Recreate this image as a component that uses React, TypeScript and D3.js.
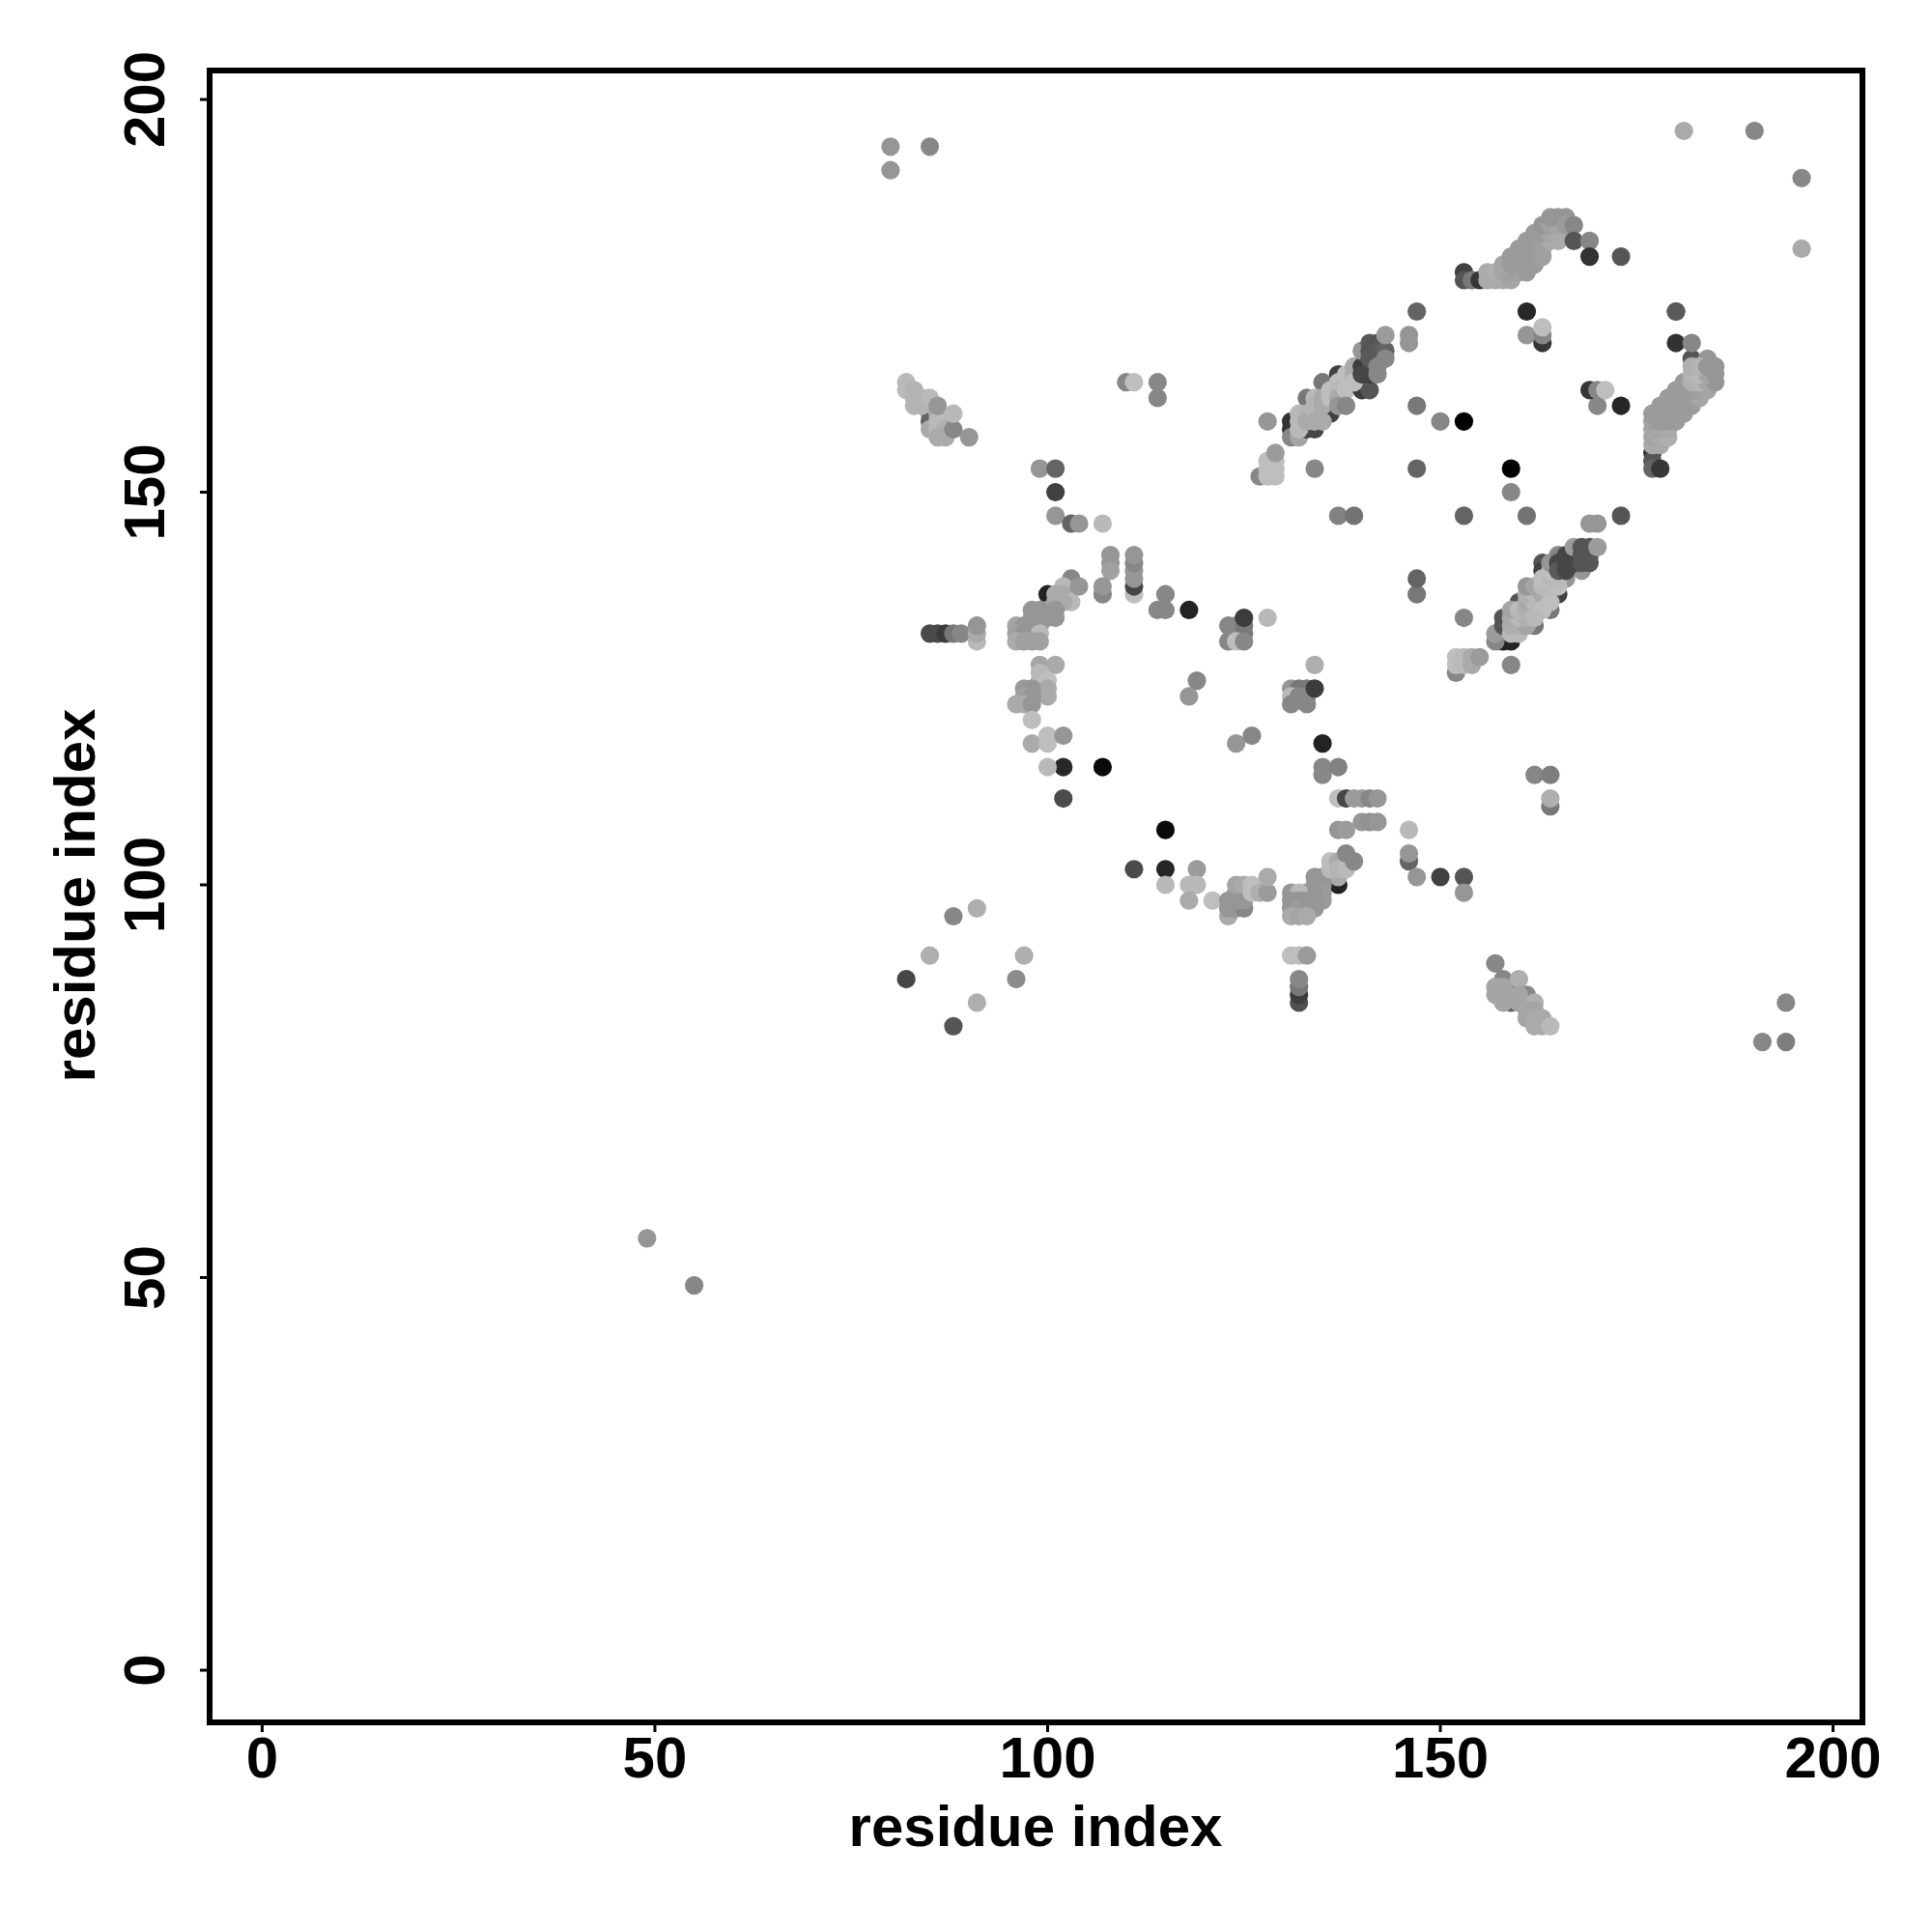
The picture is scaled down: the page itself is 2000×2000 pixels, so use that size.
import React from "react";
import * as d3 from "d3";

type Pt = [number, number, number]; // residue i, residue j, gray level

const tickValues = [0, 50, 100, 150, 200];
const axisTitle = "residue index";

const isolatedFar: Pt[] = [
  [80,194,150],[80,191,150],[85,194,135],[49,55,150],[55,49,135],[181,196,170],[190,196,135],[196,190,135],[196,181,170],
  [88,96,135],[91,97,175],[85,91,175],[97,91,175],[82,88,70],[96,88,140],[88,82,85],[91,85,175],
  [194,85,135],[191,80,135],[194,80,125],[162,114,135],[164,114,125],[164,110,120],[164,111,175],
];
const betaOneTail: Pt[] = [
  [85,160,120],[85,159,100],[87,159,125],[82,164,185],[82,163,185],[83,163,180],[83,162,180],[83,161,180],[84,162,180],[84,161,180],
  [85,162,185],[85,158,170],[86,160,170],[86,159,185],[86,158,185],[87,158,175],[86,157,170],[87,157,170],
  [86,161,150],[88,158,135],[88,160,185],[90,157,150],
];
const midScatter: Pt[] = [
  [110,164,135],[111,164,190],[114,164,135],[114,162,135],[99,153,150],[101,153,100],[101,150,65],[101,147,150],
  [103,146,100],[104,146,150],[107,146,185],[108,142,150],[108,141,150],[108,140,160],[111,137,190],[111,138,70],[111,139,150],[111,140,150],[111,141,135],[111,142,150],
  [107,137,135],[107,138,150],[115,137,135],[114,135,135],[115,135,135],[118,135,35],[86,132,75],[85,132,75],[87,132,60],[88,132,120],[89,132,135],
  [91,131,185],[91,132,170],[91,133,150],
  [119,126,135],[118,124,150],[124,118,150],[126,119,135],[135,118,35],[102,115,40],[107,115,10],[102,111,75],[115,107,10],[111,102,75],[115,102,38],[115,100,185],
  [119,102,155],[118,100,185],[119,100,185],[118,98,170],[121,98,190],
  [146,170,150],[146,169,150],[134,153,135],[147,173,100],[147,161,120],[150,159,135],[153,159,0],[147,153,100],[159,153,0],[159,150,135],
  [137,147,130],[139,147,115],[153,147,100],[161,147,115],[173,147,85],[169,146,150],[170,146,150],
  [147,137,120],[147,139,100],[153,134,135],[159,128,135],[173,161,38],[170,161,135],[169,163,55],[170,163,135],[171,163,190],
  [161,173,40],[161,170,150],[163,169,55],[163,170,135],[163,171,190],[173,180,85],[180,173,90],
];
const helixRing: Pt[] = [
  [100,137,35],[103,139,135],[102,138,185],[101,137,170],[102,137,170],[103,136,185],[101,136,170],[102,136,170],[104,138,150],
  [100,135,165],[101,135,150],[101,134,150],[98,135,150],[99,135,150],[98,134,150],[99,134,150],[100,134,150],
  [96,133,165],[97,133,150],[98,133,150],[99,133,150],[96,132,160],[97,132,150],[98,132,150],[99,132,185],[96,131,170],[97,131,160],[98,131,160],[99,131,160],
  [99,128,165],[101,128,170],[99,127,185],[99,126,185],[100,126,190],[100,125,170],[100,124,170],
  [97,125,155],[98,125,150],[97,124,160],[98,124,150],[96,123,170],[97,123,170],[98,123,150],[98,121,190],[98,118,170],[100,119,190],[100,118,190],[102,119,150],[100,115,185],
];
const loopCluster: Pt[] = [
  [123,133,135],[124,133,135],[125,133,120],[125,132,120],[123,131,135],[124,131,190],[125,131,135],[125,134,60],[128,134,185],
  [131,125,150],[132,125,120],[133,125,120],[131,124,185],[132,124,135],[133,124,135],[131,123,135],[133,123,135],[134,125,60],[134,128,175],
  [135,115,135],[135,114,135],[137,115,130],
  [137,111,190],[138,111,70],[139,111,155],[140,111,155],[141,111,135],[142,111,150],[140,108,150],[141,108,145],[142,108,150],[137,107,150],[138,107,155],
  [146,107,185],[146,103,100],[146,104,150],[147,101,150],[150,101,65],[153,101,85],[153,99,150],
];
const lowerBand: Pt[] = [
  [137,100,35],[137,101,170],[134,101,150],[135,101,150],[134,100,150],[135,100,150],[135,99,155],[135,98,155],[134,99,150],[134,98,150],[134,97,150],
  [136,102,185],[136,103,190],[137,103,170],[137,102,180],[138,102,185],[138,104,135],[139,103,135],
  [131,99,150],[133,99,150],[132,99,185],[131,98,150],[132,98,150],[133,98,150],[131,97,150],[132,97,155],[133,97,150],[131,96,170],[132,96,165],[133,96,170],
  [131,91,190],[132,91,190],[133,91,155],[132,85,80],[132,86,60],[132,87,120],[132,88,135],
  [123,96,170],[123,97,150],[124,97,150],[125,97,135],[123,98,150],[124,98,150],[125,98,150],[124,99,150],[124,100,165],[125,100,170],[126,100,190],[126,99,190],[127,99,175],[128,99,155],[128,101,170],
];
const lowerRight: Pt[] = [
  [159,87,120],[159,85,100],[161,85,120],[157,90,135],[158,88,135],[160,88,175],[157,87,165],[157,86,165],[158,87,165],[158,86,165],[158,85,165],
  [161,86,135],[160,86,165],[160,85,165],[162,85,175],[161,84,165],[162,84,165],[161,83,165],[162,83,170],[163,83,170],[162,82,170],[163,82,170],[164,82,185],
];
const bandAMain: Pt[] = [
  [131,159,50],[131,158,50],[131,157,135],[132,157,165],[133,162,120],[135,164,120],[137,165,65],[136,160,65],[133,158,70],[134,158,70],
  [132,160,185],[132,159,185],[132,158,185],[133,160,180],[133,159,170],[134,162,185],[134,161,180],[134,160,180],[134,159,170],[135,162,170],[135,161,170],[135,159,170],
  [136,163,190],[136,162,190],[137,164,190],[137,163,185],[137,162,170],[137,161,150],[138,165,190],[138,163,190],[138,161,135],
  [140,163,60],[141,163,85],[139,166,170],[139,165,170],[139,164,190],[140,166,60],[141,165,60],[140,165,70],[140,168,150],
  [141,169,90],[142,169,85],[141,168,85],[142,168,90],[141,167,90],[142,167,90],[143,168,100],[143,167,135],[142,166,135],[142,165,135],[143,170,155],
  [127,152,135],[128,154,190],[129,154,190],[128,153,190],[129,153,190],[128,152,190],[129,152,190],[129,155,155],[128,159,150],
];
const bandBMain: Pt[] = [
  [158,131,35],[159,131,35],[157,131,135],[157,132,155],[158,134,85],[158,133,85],[160,136,85],[163,141,85],[163,140,65],[164,137,170],[165,137,65],[164,135,120],[162,133,120],[166,139,150],[168,140,150],
  [159,132,185],[160,132,185],[159,133,175],[160,133,175],[161,133,165],[159,134,170],[160,134,185],[161,134,175],[159,135,165],[160,135,185],[161,135,175],[162,135,185],
  [161,136,170],[162,136,185],[163,136,175],[161,137,175],[162,137,185],[163,137,170],[164,136,190],[163,135,190],[162,134,185],
  [161,138,150],[162,138,165],[163,138,185],[164,138,185],[165,138,190],[163,139,190],[164,139,185],[165,139,185],
  [164,140,190],[164,141,150],[165,142,135],[165,141,70],[165,140,90],[166,140,70],[166,141,70],[166,142,70],[167,142,70],[167,141,70],[167,143,155],
  [168,143,85],[169,143,85],[168,142,85],[169,142,85],[168,141,85],[169,141,85],[170,143,155],
  [152,127,135],[152,128,190],[152,129,190],[153,129,185],[153,128,185],[154,128,170],[154,129,170],[155,129,155],
];
const bandCMain: Pt[] = [
  [153,178,65],[153,177,85],[154,177,120],[155,177,55],[156,177,170],[157,177,170],[158,177,170],[159,177,165],[156,178,170],[157,178,175],[158,178,165],[159,178,160],[160,178,160],[161,178,155],
  [158,179,165],[159,179,155],[160,179,155],[161,179,155],[162,179,155],[159,180,155],[160,180,155],[161,180,155],[162,180,155],[163,180,160],
  [160,181,155],[161,181,155],[162,181,155],[163,181,160],[161,182,155],[162,182,155],[163,182,160],[164,182,170],[165,182,170],
  [162,183,155],[163,183,155],[164,183,165],[165,183,170],[163,184,150],[164,184,160],[165,184,165],[164,185,150],[165,185,150],[166,185,150],[166,184,155],
  [167,184,135],[167,182,85],[169,182,135],[169,180,50],
];
const bandDMain: Pt[] = [
  [177,155,50],[177,154,85],[177,153,100],[178,153,55],[180,169,50],[182,167,85],[182,169,135],[184,167,150],[180,173,90],
  [177,156,170],[178,156,170],[177,157,165],[178,157,170],[179,157,175],[177,158,165],[178,158,165],[179,158,170],[177,159,160],[178,159,155],[179,159,155],[180,159,155],
  [177,160,155],[178,160,155],[179,160,155],[180,160,155],[181,160,155],[178,161,155],[179,161,155],[180,161,155],[181,161,155],[182,161,155],
  [179,162,155],[180,162,155],[181,162,155],[182,162,155],[183,162,165],[180,163,155],[181,163,155],[182,163,155],[183,163,160],[184,163,165],
  [181,164,155],[182,164,175],[183,164,180],[184,164,165],[185,164,150],[182,165,180],[183,165,185],[184,165,165],[185,165,150],[182,166,175],[183,166,180],[184,166,150],[185,166,150],
];

const markGroups = [
  isolatedFar, betaOneTail, midScatter, helixRing, loopCluster, lowerBand, lowerRight, bandAMain, bandBMain, bandCMain, bandDMain,
];

const x = d3.scaleLinear().domain([0, 200]).range([271.4, 1897.6]);
const y = d3.scaleLinear().domain([0, 200]).range([1729, 103]);
const shade = (g: number) => d3.rgb(g, g, g).formatHex();

const frame = { left: 217, right: 1928, top: 73, bottom: 1783 };
const fontFamily = "'Liberation Sans', Arial, sans-serif";

export default function App() {
  return (
    <svg width={2000} height={2000} style={{ position: "absolute", left: 0, top: 0, background: "#fff" }} fontFamily={fontFamily} fontWeight="bold">
      {markGroups.flat().map(([i, j, g], k) => (
        <circle key={k} cx={x(i)} cy={y(j)} r={9.6} fill={shade(g)} />
      ))}
      <rect x={frame.left} y={frame.top} width={frame.right - frame.left} height={frame.bottom - frame.top} fill="none" stroke="#000" strokeWidth={6} />
      {tickValues.map((t) => (
        <g key={t}>
          <line x1={x(t)} x2={x(t)} y1={frame.bottom} y2={frame.bottom + 10} stroke="#000" strokeWidth={3} />
          <text x={x(t)} y={1840} textAnchor="middle" fontSize={60}>{t}</text>
          <line x1={frame.left} x2={frame.left - 10} y1={y(t)} y2={y(t)} stroke="#000" strokeWidth={3} />
          <text transform={`translate(170,${y(t)}) rotate(-90)`} textAnchor="middle" fontSize={60}>{t}</text>
        </g>
      ))}
      <text x={1072} y={1911} textAnchor="middle" fontSize={60}>{axisTitle}</text>
      <text transform={`translate(98,927) rotate(-90)`} textAnchor="middle" fontSize={60}>{axisTitle}</text>
    </svg>
  );
}
